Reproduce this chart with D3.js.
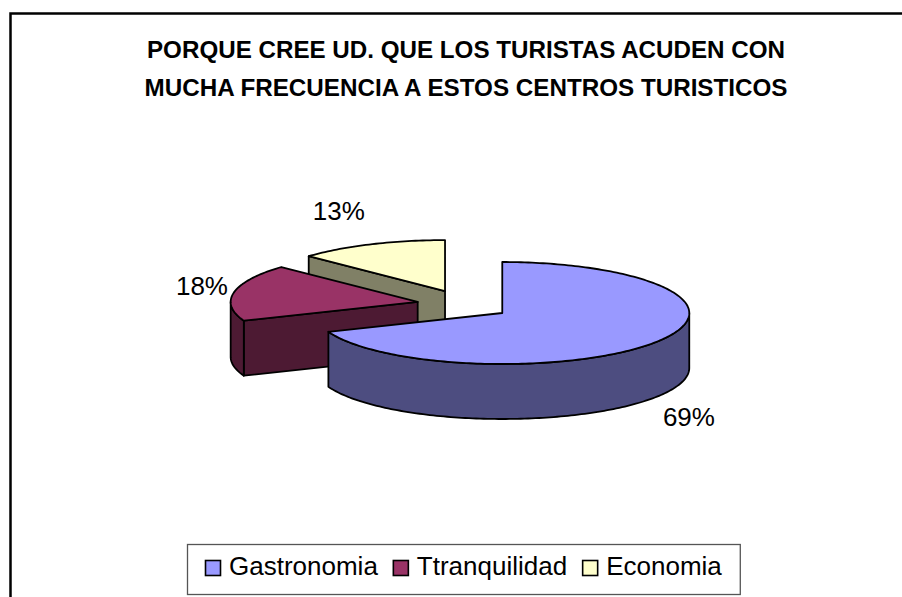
<!DOCTYPE html>
<html>
<head>
<meta charset="utf-8">
<script src="https://cdn.jsdelivr.net/npm/d3@7"></script>
<style>
  body { margin: 0; background: #fff; }
  text { font-family: "Liberation Sans", Arial, sans-serif; }
</style>
</head>
<body>
<script>

// data
var categories = ["Gastronomia", "Ttranquilidad", "Economia"];
var values = [69, 18, 13];
var titleLines = ["PORQUE CREE UD. QUE LOS TURISTAS ACUDEN CON",
                  "MUCHA FRECUENCIA A ESTOS CENTROS TURISTICOS"];
var titleWidths = [638, 643];
var topColors = ["#9999ff", "#993366", "#ffffcc"];
var sideColors = ["#4d4d80", "#4d1a33", "#808066"];

var width = 902, height = 597;

// 3d pie settings
var cx = 463.6, cy = 304.7;
var rx = 187, ry = 51, depth = 55;
var explodeX = 0.25, explodeY = 0.29;

var svg = d3.select("body").append("svg")
	.attr("width", width)
	.attr("height", height);

// chart frame (right + bottom sides fall outside the picture)
svg.append("rect")
	.attr("x", 10.5)
	.attr("y", 13.5)
	.attr("width", 1000)
	.attr("height", 1000)
	.style("fill", "none")
	.style("stroke", "#000")
	.style("stroke-width", 2.5);

svg.selectAll("text.title")
	.data(titleLines)
	.enter()
	.append("text")
	.attr("class", "title")
	.attr("x", 466)
	.attr("y", function (d, i) { return 58 + i * 38; })
	.attr("text-anchor", "middle")
	.attr("textLength", function (d, i) { return titleWidths[i]; })
	.attr("lengthAdjust", "spacingAndGlyphs")
	.style("font-size", "24.5px")
	.style("font-weight", "bold")
	.text(function (d) { return d; });

var pie = d3.pie().sort(null).startAngle(0).endAngle(2 * Math.PI);
var arcs = pie(values);

arcs.forEach(function (a, i) {
	a.i = i;
	a.mid = (a.startAngle + a.endAngle) / 2;
	a.ox = explodeX * rx * Math.sin(a.mid);
	a.oy = -explodeY * ry * Math.cos(a.mid);
});

// point on the top ellipse of a slice (angle from 12 o'clock, clockwise)
var pt = function (a, t, r, dz) {
	return [cx + a.ox + rx * r * Math.sin(t), cy + a.oy - ry * r * Math.cos(t) + (dz || 0)];
};

var arcPoints = function (a, t0, t1, dz) {
	var n = Math.max(2, Math.ceil((t1 - t0) / 0.02));
	return d3.range(n + 1).map(function (k) {
		return pt(a, t0 + (t1 - t0) * k / n, 1, dz);
	});
};

var line = d3.line();

// back slices first
var order = arcs.slice().sort(function (a, b) { return a.oy - b.oy; });

order.forEach(function (a) {
	var g = svg.append("g");
	var apex = pt(a, 0, 0);
	var apexB = pt(a, 0, 0, depth);

	// radial walls that face the viewer
	[[a.startAngle, -1], [a.endAngle, 1]].forEach(function (w) {
		var t = w[0];
		// outward normal of the wall points at t + w[1]*90deg; visible if it points down
		var ny = -Math.cos(t + w[1] * Math.PI / 2);
		if (ny <= 0.001) return;
		var p = pt(a, t, 1), pb = pt(a, t, 1, depth);
		g.append("path")
			.attr("d", line([apex, p, pb, apexB]) + "Z")
			.style("fill", sideColors[a.i])
			.style("stroke", "#000")
			.style("stroke-width", 1.8)
			.style("stroke-linejoin", "round");
	});

	// curved outer wall, front half only
	var s = Math.max(a.startAngle, Math.PI / 2);
	var e = Math.min(a.endAngle, 3 * Math.PI / 2);
	if (e > s) {
		var top = arcPoints(a, s, e, 0);
		var bot = arcPoints(a, s, e, depth).reverse();
		g.append("path")
			.attr("d", line(top.concat(bot)) + "Z")
			.style("fill", sideColors[a.i])
			.style("stroke", "#000")
			.style("stroke-width", 1.8)
			.style("stroke-linejoin", "round");
	}

	// top face
	g.append("path")
		.attr("d", line([apex].concat(arcPoints(a, a.startAngle, a.endAngle, 0))) + "Z")
		.style("fill", topColors[a.i])
		.style("stroke", "#000")
		.style("stroke-width", 1.8)
		.style("stroke-linejoin", "round");
});

// percent labels, placed just outside the rim of each slice
svg.selectAll("text.lbl")
	.data(arcs)
	.enter()
	.append("text")
	.attr("class", "lbl")
	.attr("x", function (d) {
		var s = Math.sin(d.mid);
		return pt(d, d.mid, 1)[0] + (s < 0 ? -32 : 32);
	})
	.attr("y", function (d) {
		var y = pt(d, d.mid, 1)[1] - 36 * Math.cos(d.mid);
		if (-Math.cos(d.mid) > 0) y += depth;
		return y + 9;
	})
	.attr("text-anchor", "middle")
	.style("font-size", "26px")
	.text(function (d) { return Math.round(d.value) + "%"; });

// legend
var legend = svg.append("g");
var legBox = legend.append("rect")
	.style("fill", "#fff")
	.style("stroke", "#555")
	.style("stroke-width", 1.3);

var items = legend.selectAll("g.item")
	.data(categories)
	.enter()
	.append("g")
	.attr("class", "item");

items.append("rect")
	.attr("width", 15)
	.attr("height", 15)
	.attr("y", 560.5)
	.style("fill", function (d, i) { return topColors[i]; })
	.style("stroke", "#000")
	.style("stroke-width", 1.6);

items.append("text")
	.attr("y", 575)
	.style("font-size", "26px")
	.text(function (d) { return d; });

var xpos = 0;
items.each(function () {
	var it = d3.select(this);
	var w = it.select("text").node().getComputedTextLength();
	it.select("rect").attr("x", xpos + 0.5);
	it.select("text").attr("x", xpos + 24);
	xpos += 24 + w + 15;
});
var legW = xpos - 15 + 36;
var legX = Math.round(463 - legW / 2);
legend.selectAll("g.item").attr("transform", "translate(" + (legX + 18) + ",0)");
legBox.attr("x", legX + 0.5).attr("y", 544.5).attr("width", legW).attr("height", 50);

</script>
</body>
</html>
